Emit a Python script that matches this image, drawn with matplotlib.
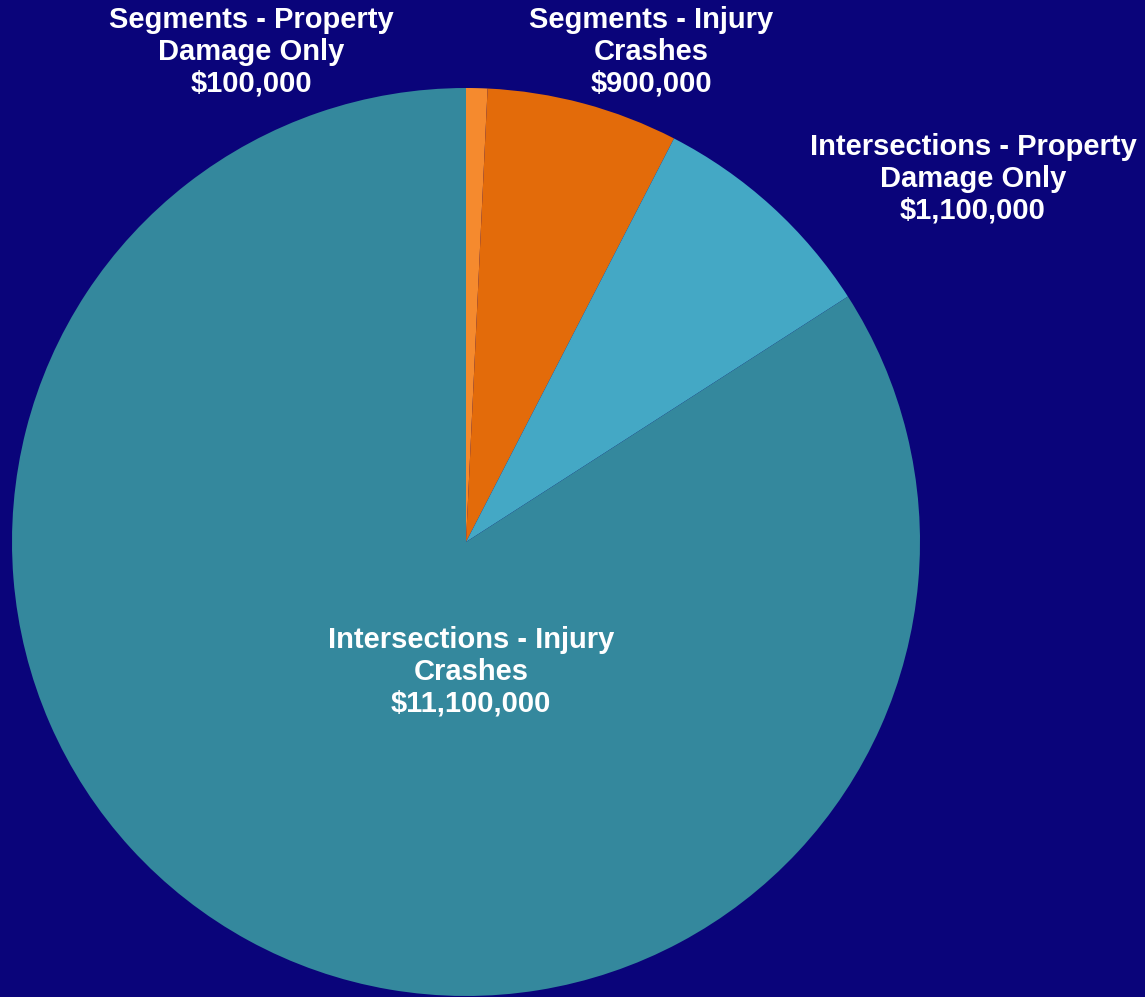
import matplotlib.pyplot as plt

# Стоимость аварий по типу места и тяжести
categories = [
    "Segments - Property\nDamage Only",
    "Segments - Injury\nCrashes",
    "Intersections - Property\nDamage Only",
    "Intersections - Injury\nCrashes",
]
values = [100_000, 900_000, 1_100_000, 11_100_000]
colors = ["#F58A2E", "#E36B0A", "#44A8C5", "#34889D"]

# позиции подписей (в пикселях холста, y сверху вниз)
label_pos = [(251, 52), (651, 52), (973, 179), (471, 672)]

W, H = 1145, 997
BG = "#0A047A"

fig = plt.figure(figsize=(W / 100, H / 100), dpi=100, facecolor=BG)
ax = fig.add_axes([0, 0, 1, 1])
ax.set_facecolor(BG)

ax.pie(values, colors=colors, startangle=90, counterclock=False,
       center=(466, H - 542), radius=454,
       wedgeprops=dict(linewidth=0))
ax.set_xlim(0, W)
ax.set_ylim(0, H)
ax.set_aspect("equal")
ax.axis("off")

for name, val, (x, y) in zip(categories, values, label_pos):
    ax.text(x, H - y, f"{name}\n${val:,.0f}", ha="center", va="center",
            color="white", fontsize=21, fontweight="bold",
            family="Liberation Sans", linespacing=1.18)

fig.savefig("out.png", dpi=100, facecolor=BG)
